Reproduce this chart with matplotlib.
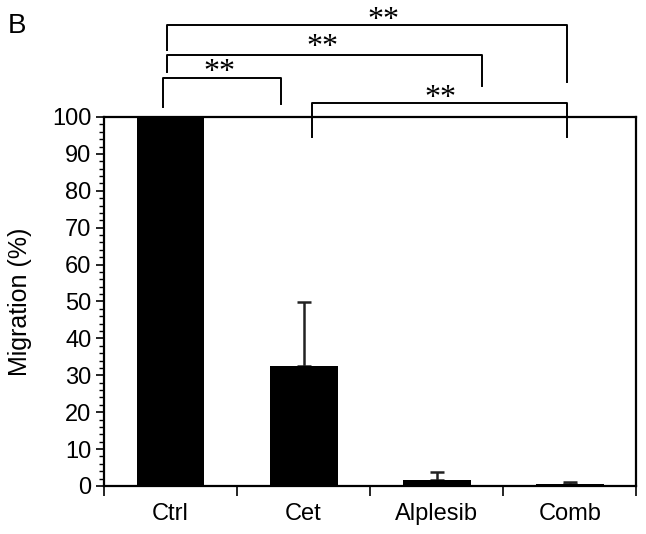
import matplotlib.pyplot as plt
import numpy as np
from matplotlib.ticker import MultipleLocator, FixedLocator

plt.rcParams['font.family'] = ['Liberation Sans', 'DejaVu Sans']

groups = ['Ctrl', 'Cet', 'Alplesib', 'Comb']
migration = [100.0, 32.5, 1.5, 0.5]
err_up = [0.0, 17.3, 2.3, 0.7]

# brackets: (left x, right x, top y, left leg end, right leg end, star x, star y)
brackets = [
    (-0.06, 0.83, 110.6, 102.7, 103.5, 0.37, 108.0),
    (-0.03, 2.34, 116.8, 112.2, 108.4, 1.14, 114.8),
    (-0.03, 2.98, 124.9, 118.2, 109.5, 1.60, 122.2),
    (1.06, 2.98, 103.9, 94.7, 94.7, 2.03, 101.2),
]

fig = plt.figure(figsize=(6.46, 5.34), dpi=100)
ax = fig.add_axes([0.161, 0.0899, 0.824, 0.691])

x = np.arange(len(groups))
ax.bar(x, migration, width=0.51, color='black', zorder=2)
ax.errorbar(x[1:], migration[1:], yerr=[np.zeros(3), err_up[1:]], fmt='none',
            ecolor='#222222', elinewidth=1.8, capsize=4.8, capthick=1.8, zorder=1)

ax.set_xlim(-0.5, 3.5)
ax.set_ylim(0, 100)
ax.yaxis.set_major_locator(MultipleLocator(10))
ax.yaxis.set_minor_locator(MultipleLocator(2))
ax.set_xticks(x)
ax.set_xticklabels(groups, fontsize=17)
ax.xaxis.set_minor_locator(FixedLocator([-0.5, 0.5, 1.5, 2.5, 3.5]))
ax.tick_params(axis='x', which='major', length=0, pad=12)
ax.tick_params(axis='x', which='minor', length=7, width=1.2, direction='out')
ax.tick_params(axis='y', which='major', length=6, width=1.2, labelsize=17, pad=3)
ax.tick_params(axis='y', which='minor', length=3.5, width=1)
for s in ax.spines.values():
    s.set_linewidth(1.6)
ax.set_ylabel('Migration (%)', fontsize=18)
ax.yaxis.set_label_coords(-0.136, 0.5)

for x0, x1, yt, yl, yr, sx, sy in brackets:
    ax.plot([x0, x0, x1, x1], [yl, yt, yt, yr], color='black', lw=1.4,
            clip_on=False, zorder=3)
    ax.text(sx, sy, '**', ha='center', va='bottom', fontsize=23,
            family='Liberation Serif', clip_on=False)

fig.text(0.012, 0.975, 'B', fontsize=20, va='top', ha='left')

fig.savefig('out.png', dpi=100)
